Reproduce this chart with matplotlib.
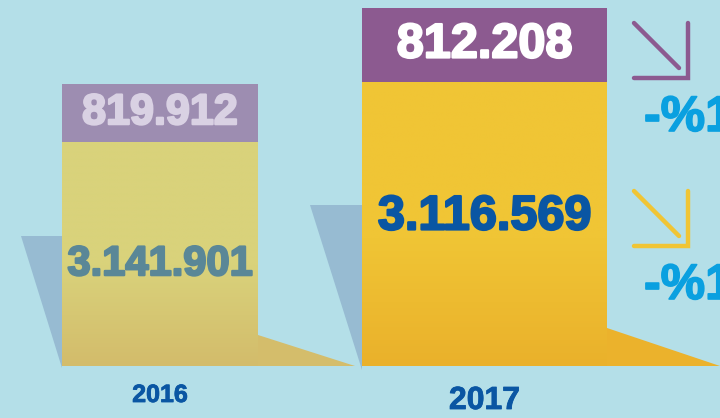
import numpy as np
import matplotlib.pyplot as plt
import matplotlib.patheffects as pe
from matplotlib.patches import Polygon
from matplotlib.colors import LinearSegmentedColormap

# --- data ---
years = ["2016", "2017"]
total_values = [3141901, 3116569]   # lower (yellow) segment
unit_values = [819912, 812208]      # upper (purple) segment
change_labels = ["-%1", "-%1"]

# --- style ---
BG = "#b4dfe8"
SHADOW = "#97bbd2"
TEXT_BLUE = "#0a56a3"
CHANGE_BLUE = "#0aa0e0"
FONT = "Liberation Sans"

# per-year look: older year sits "further back", so it is drawn smaller and faded
bar_x = [160, 484.5]
bar_w = [196, 245]
bar_px = [282, 358]            # full stack height in pixels
purple = ["#9d8db1", "#8c5a90"]
yellow_top = ["#d9d27b", "#f0c535"]
yellow_bot = ["#d3bc6b", "#eab12b"]
upper_txt = ["#d9d1e3", "#ffffff"]
lower_txt = ["#5a8797", TEXT_BLUE]
upper_fs = [31, 35]
lower_fs = [30, 35]
lower_shift = [-10, 7]
year_fs = [18, 23]
year_y = [418 - 395, 418 - 401]

BASE = 418 - 366


def heavy(color, w=1.6):
    # thicken the bold face a little with a stroke of the same colour
    return [pe.withStroke(linewidth=w, foreground=color)]


fig = plt.figure(figsize=(7.2, 4.18), dpi=100)
fig.patch.set_facecolor(BG)
ax = fig.add_axes([0, 0, 1, 1])
ax.set_facecolor(BG)
ax.set_xlim(0, 720)
ax.set_ylim(0, 418)
ax.axis("off")

# shadows behind the bars (left wedge) and the floor wedge on the right
left_shadows = [[(21, 182), (62, 182), (62, 50)],
                [(310, 213), (362, 213), (362, 48)]]
floor_wedges = [[(258, 83), (355, 52), (258, 52)],
                 [(607, 90), (720, 52), (607, 52)]]
floor_cols = ["#d4bd6b", "#ebb22c"]
for i in range(2):
    ax.add_patch(Polygon(left_shadows[i], closed=True, color=SHADOW, lw=0, zorder=1))
    ax.add_patch(Polygon(floor_wedges[i], closed=True, color=floor_cols[i], lw=0, zorder=1))

for i in range(2):
    scale = bar_px[i] / (total_values[i] + unit_values[i])
    h_low = total_values[i] * scale
    h_up = unit_values[i] * scale

    low = ax.bar(bar_x[i], h_low, width=bar_w[i], bottom=BASE,
                 color=yellow_top[i], lw=0, zorder=2)[0]
    ax.bar(bar_x[i], h_up, width=bar_w[i], bottom=BASE + h_low,
           color=purple[i], lw=0, zorder=2)

    # soft vertical gradient on the yellow segment
    cmap = LinearSegmentedColormap.from_list(
        "y%d" % i, [(0, yellow_bot[i]), (0.45, yellow_top[i]), (1, yellow_top[i])])
    grad = np.linspace(0, 1, 256).reshape(-1, 1)
    x0 = bar_x[i] - bar_w[i] / 2
    im = ax.imshow(grad, extent=[x0, x0 + bar_w[i], BASE, BASE + h_low],
                   origin="lower", cmap=cmap, aspect="auto", zorder=3)
    im.set_clip_path(low)

    ax.text(bar_x[i], BASE + h_low + h_up / 2, f"{unit_values[i]:,}".replace(",", "."),
            ha="center", va="center", fontsize=upper_fs[i], fontweight="bold",
            color=upper_txt[i], family=FONT, zorder=4,
            path_effects=heavy(upper_txt[i]))
    ax.text(bar_x[i], BASE + h_low / 2 + lower_shift[i],
            f"{total_values[i]:,}".replace(",", "."),
            ha="center", va="center", fontsize=lower_fs[i], fontweight="bold",
            color=lower_txt[i], family=FONT, zorder=4,
            path_effects=heavy(lower_txt[i]))
    ax.text(bar_x[i], year_y[i], years[i], ha="center", va="center",
            fontsize=year_fs[i], fontweight="bold", color=TEXT_BLUE, family=FONT,
            path_effects=heavy(TEXT_BLUE, 0.6))

ax.set_xlim(0, 720)
ax.set_ylim(0, 418)

# down-right arrows with the change labels
arrow_cols = [purple[1], yellow_top[1]]
arrow_top = [418 - 23, 418 - 191]
label_y = [418 - 118, 418 - 286]
for i in range(2):
    t = arrow_top[i]
    c = arrow_cols[i]
    ax.plot([634, 679], [t, t - 45], color=c, lw=3.2, solid_capstyle="round")
    ax.plot([634, 688, 688], [t - 55, t - 55, t], color=c, lw=3.2,
            solid_capstyle="round", solid_joinstyle="miter")
    ax.text(644, label_y[i], change_labels[i], ha="left", va="center",
            fontsize=36, fontweight="bold", color=CHANGE_BLUE, family=FONT,
            path_effects=heavy(CHANGE_BLUE, 1.2))

fig.savefig("out.png", dpi=100, facecolor=BG)
